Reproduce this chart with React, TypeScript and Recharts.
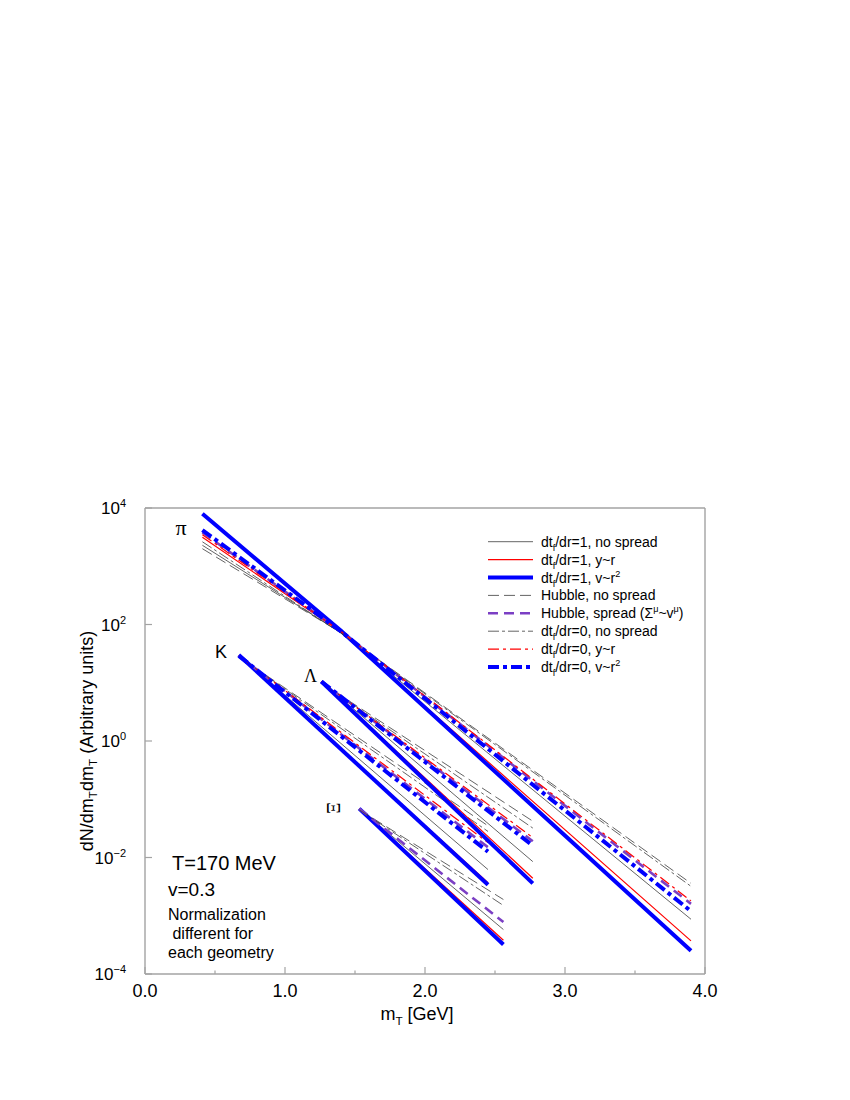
import React from "react";
import { Label, Legend, Line, LineChart, XAxis, YAxis } from "recharts";

const piMT = [0.41, 1.4, 3.9];
const kMT = [0.67, 2.45];
const lamMT = [1.26, 2.77];
const xiMT = [1.53, 2.56];

// pion spectra
const piNoSpread1 = [2290, 72, 8.7e-4];
const piYr1 = [3160, 74, 3.7e-4];
const piVr1 = [7940, 78, 2.5e-4];
const piHubble = [2000, 72, 3.6e-3];
const piHubbleSpread = [3800, 76, 1.6e-3];
const piNoSpread0 = [2630, 71, 3.2e-3];
const piYr0 = [3470, 76, 1.8e-3];
const piVr0 = [4170, 76, 1.2e-3];

// kaon spectra
const kNoSpread1 = [29, 6.2e-3];
const kYr1 = [29, 3.7e-3];
const kVr1 = [30, 3.4e-3];
const kHubble = [28, 3.5e-2];
const kHubbleSpread = [29, 1.5e-2];
const kNoSpread0 = [28, 2.8e-2];
const kYr0 = [29, 1.8e-2];
const kVr0 = [29, 1.26e-2];

// lambda spectra
const lamNoSpread1 = [10.5, 8.5e-3];
const lamYr1 = [10.5, 4.4e-3];
const lamVr1 = [10.5, 3.6e-3];
const lamHubble = [10, 4.2e-2];
const lamHubbleSpread = [10.5, 1.9e-2];
const lamNoSpread0 = [10, 3.2e-2];
const lamYr0 = [10.5, 2.2e-2];
const lamVr0 = [10.5, 1.6e-2];

// xi spectra
const xiNoSpread1 = [0.069, 5.8e-4];
const xiYr1 = [0.069, 3.8e-4];
const xiVr1 = [0.069, 3.2e-4];
const xiHubble = [0.066, 1.9e-3];
const xiHubbleSpread = [0.069, 7.8e-4];
const xiNoSpread0 = [0.066, 1.5e-3];

const xTicks = [0, 0.5, 1, 1.5, 2, 2.5, 3, 3.5, 4];
const yTicks = [1e-4, 1e-2, 1, 1e2, 1e4];
const yExp: Record<string, string> = { "-4": "\u22124", "-2": "\u22122", "0": "0", "2": "2", "4": "4" };

type Seg = [string, ("sub" | "sup")?];

const legendLabels: Record<string, Seg[]> = {
  ns1: [["dt"], ["f", "sub"], ["/dr=1, no spread"]],
  yr1: [["dt"], ["f", "sub"], ["/dr=1, y~r"]],
  vr1: [["dt"], ["f", "sub"], ["/dr=1, v~r"], ["2", "sup"]],
  hub: [["Hubble, no spread"]],
  hubS: [["Hubble, spread (\u03A3"], ["\u03BC", "sup"], ["~v"], ["\u03BC", "sup"], [")"]],
  ns0: [["dt"], ["f", "sub"], ["/dr=0, no spread"]],
  yr0: [["dt"], ["f", "sub"], ["/dr=0, y~r"]],
  vr0: [["dt"], ["f", "sub"], ["/dr=0, v~r"], ["2", "sup"]],
};

const FRAME = "#a3a3a3";
const SANS = "'Liberation Sans', Arial, Helvetica, sans-serif";
const SERIF = "'Liberation Serif', 'Times New Roman', serif";
const BLUE = "#0000ff";
const RED = "#ff0000";
const GREY = "#3c3c3c";
const PURPLE = "#7b3fc4";

const CURVES = [
  { key: "ns1", stroke: GREY, width: 0.8, dash: undefined },
  { key: "yr1", stroke: RED, width: 1.2, dash: undefined },
  { key: "vr1", stroke: BLUE, width: 4, dash: undefined },
  { key: "hub", stroke: GREY, width: 0.8, dash: "11 5" },
  { key: "hubS", stroke: PURPLE, width: 2.6, dash: "10 6" },
  { key: "ns0", stroke: GREY, width: 0.8, dash: "11 3 3 3" },
  { key: "yr0", stroke: RED, width: 1.2, dash: "11 4 3 4" },
  { key: "vr0", stroke: BLUE, width: 4, dash: "11 4 4 4" },
];

const GROUPS: { id: string; mT: number[]; curves: Record<string, number[]> }[] = [
  {
    id: "pi",
    mT: piMT,
    curves: { ns1: piNoSpread1, yr1: piYr1, vr1: piVr1, hub: piHubble, hubS: piHubbleSpread, ns0: piNoSpread0, yr0: piYr0, vr0: piVr0 },
  },
  {
    id: "k",
    mT: kMT,
    curves: { ns1: kNoSpread1, yr1: kYr1, vr1: kVr1, hub: kHubble, hubS: kHubbleSpread, ns0: kNoSpread0, yr0: kYr0, vr0: kVr0 },
  },
  {
    id: "lam",
    mT: lamMT,
    curves: { ns1: lamNoSpread1, yr1: lamYr1, vr1: lamVr1, hub: lamHubble, hubS: lamHubbleSpread, ns0: lamNoSpread0, yr0: lamYr0, vr0: lamVr0 },
  },
  {
    id: "xi",
    mT: xiMT,
    curves: { ns1: xiNoSpread1, yr1: xiYr1, vr1: xiVr1, hub: xiHubble, hubS: xiHubbleSpread, ns0: xiNoSpread0 },
  },
];

const series = GROUPS.flatMap((g) =>
  CURVES.filter((c) => g.curves[c.key]).map((c) => ({
    id: `${g.id}-${c.key}`,
    style: c,
    data: g.mT.map((x, i) => ({ x, y: g.curves[c.key][i] })),
  }))
);

function rich(segs: Seg[], size: number) {
  let shift = 0;
  return segs.map(([t, kind], i) => {
    const target = kind === "sub" ? size * 0.3 : kind === "sup" ? -size * 0.42 : 0;
    const dy = target - shift;
    shift = target;
    return (
      <tspan key={i} dy={dy} fontSize={kind ? size * 0.65 : size}>
        {t}
      </tspan>
    );
  });
}

function XTick({ x, y, payload }: any) {
  const major = Number.isInteger(payload.value);
  return (
    <g>
      <line x1={x} x2={x} y1={y} y2={y - (major ? 7 : 3.5)} stroke={FRAME} strokeWidth={1.2} />
      {major && (
        <text x={x} y={y + 23} textAnchor="middle" fontSize={18} fontFamily={SANS} fill="#000">
          {payload.value.toFixed(1)}
        </text>
      )}
    </g>
  );
}

function TopTick({ x, y, payload }: any) {
  const major = Number.isInteger(payload.value);
  return <line x1={x} x2={x} y1={y} y2={y + (major ? 7 : 3.5)} stroke={FRAME} strokeWidth={1.2} />;
}

function YTick({ x, y, payload }: any) {
  const e = String(Math.round(Math.log10(payload.value)));
  return (
    <g>
      <line x1={x} x2={x + 7} y1={y} y2={y} stroke={FRAME} strokeWidth={1.2} />
      <text x={x - 19} y={y + 6} textAnchor="end" fontSize={17} fontFamily={SANS} fill="#000">
        <tspan>10</tspan>
        <tspan dy={-7} fontSize={11}>
          {yExp[e]}
        </tspan>
      </text>
    </g>
  );
}

function RightTick({ x, y }: any) {
  return <line x1={x} x2={x - 7} y1={y} y2={y} stroke={FRAME} strokeWidth={1.2} />;
}

function YTitle(props: any) {
  const vb = props.viewBox ?? { x: 77, y: 500, width: 60, height: 466 };
  const cx = vb.x + 2;
  const cy = vb.y + vb.height / 2;
  return (
    <text
      x={cx}
      y={cy}
      transform={`rotate(-90 ${cx} ${cy})`}
      textAnchor="middle"
      dominantBaseline="central"
      fontSize={18}
      fontFamily={SANS}
      fill="#000"
    >
      {rich([["dN/dm"], ["T", "sub"], ["dm"], ["T", "sub"], [" (Arbitrary units)"]], 18)}
    </text>
  );
}

function XTitle(props: any) {
  const vb = props.viewBox ?? { x: 137, y: 966, width: 560, height: 50 };
  return (
    <text x={vb.x + vb.width / 2 - 8} y={vb.y + 46} textAnchor="middle" fontSize={18} fontFamily={SANS} fill="#000">
      {rich([["m"], ["T", "sub"], [" [GeV]"]], 18)}
    </text>
  );
}

function LegendBox() {
  return (
    <svg width={250} height={150} style={{ display: "block" }}>
      {CURVES.map((c, i) => {
        const cy = 11.7 + 17.9 * i;
        return (
          <g key={c.key}>
            <line x1={8} x2={53} y1={cy} y2={cy} stroke={c.stroke} strokeWidth={c.width} strokeDasharray={c.dash} />
            <text x={61} y={cy + 5} fontSize={14} fontFamily={SANS} fill="#000">
              {rich(legendLabels[c.key], 14)}
            </text>
          </g>
        );
      })}
    </svg>
  );
}

export default function App() {
  return (
    <div style={{ position: "relative", width: 834, height: 1060 }}>
      <LineChart width={834} height={1060} margin={{ top: 490, right: 127, bottom: 44, left: 77 }}>
        <XAxis
          dataKey="x"
          type="number"
          domain={[0, 4]}
          ticks={xTicks}
          interval={0}
          allowDataOverflow
          tickSize={0}
          tickMargin={0}
          tickLine={false}
          tick={XTick}
          axisLine={{ stroke: FRAME, strokeWidth: 1.4 }}
          height={50}
        >
          <Label content={XTitle} />
        </XAxis>
        <XAxis
          xAxisId="top"
          orientation="top"
          type="number"
          domain={[0, 4]}
          ticks={xTicks}
          interval={0}
          tickSize={0}
          tickMargin={0}
          tickLine={false}
          tick={TopTick}
          axisLine={{ stroke: FRAME, strokeWidth: 1.4 }}
          height={10}
        />
        <YAxis
          type="number"
          scale="log"
          domain={[1e-4, 1e4]}
          ticks={yTicks}
          interval={0}
          allowDataOverflow
          tickSize={0}
          tickMargin={0}
          tickLine={false}
          tick={YTick}
          axisLine={{ stroke: FRAME, strokeWidth: 1.4 }}
          width={60}
        >
          <Label content={YTitle} />
        </YAxis>
        <YAxis
          yAxisId="right"
          orientation="right"
          type="number"
          scale="log"
          domain={[1e-4, 1e4]}
          ticks={yTicks}
          interval={0}
          tickSize={0}
          tickMargin={0}
          tickLine={false}
          tick={RightTick}
          axisLine={{ stroke: FRAME, strokeWidth: 1.4 }}
          width={10}
        />
        <Legend
          layout="vertical"
          align="center"
          verticalAlign="middle"
          content={LegendBox}
          wrapperStyle={{ left: 472, top: 522, width: 250, height: 150 }}
        />
        {series.map((s) => (
          <Line
            key={s.id}
            data={s.data}
            dataKey="y"
            type="linear"
            stroke={s.style.stroke}
            strokeWidth={s.style.width}
            strokeDasharray={s.style.dash}
            dot={false}
            activeDot={false}
            legendType="none"
            isAnimationActive={false}
          />
        ))}
      </LineChart>
      <svg width={834} height={1060} style={{ position: "absolute", left: 0, top: 0, pointerEvents: "none" }}>
        <text x={173} y={527} textAnchor="middle" fontSize={22} fontFamily={SERIF}>
          π
        </text>
        <text x={207} y={650} fontSize={18} fontFamily={SANS}>
          K
        </text>
        <text x={296} y={674} fontSize={18} fontFamily={SERIF}>
          Λ
        </text>
        <text
          x={325}
          y={800}
          transform="rotate(90 325 800)"
          textAnchor="middle"
          dominantBaseline="central"
          fontSize={18}
          fontFamily={SERIF}
        >
          Ξ
        </text>
        <g fontFamily={SANS} fill="#000">
          <text x={164} y={862} fontSize={20}>
            T=170 MeV
          </text>
          <text x={160} y={888} fontSize={19}>
            v=0.3
          </text>
          <text x={160} y={912} fontSize={16}>
            Normalization
          </text>
          <text x={160} y={931} fontSize={16} xmlSpace="preserve">
            {" different for"}
          </text>
          <text x={160} y={950} fontSize={16}>
            each geometry
          </text>
        </g>
      </svg>
    </div>
  );
}
